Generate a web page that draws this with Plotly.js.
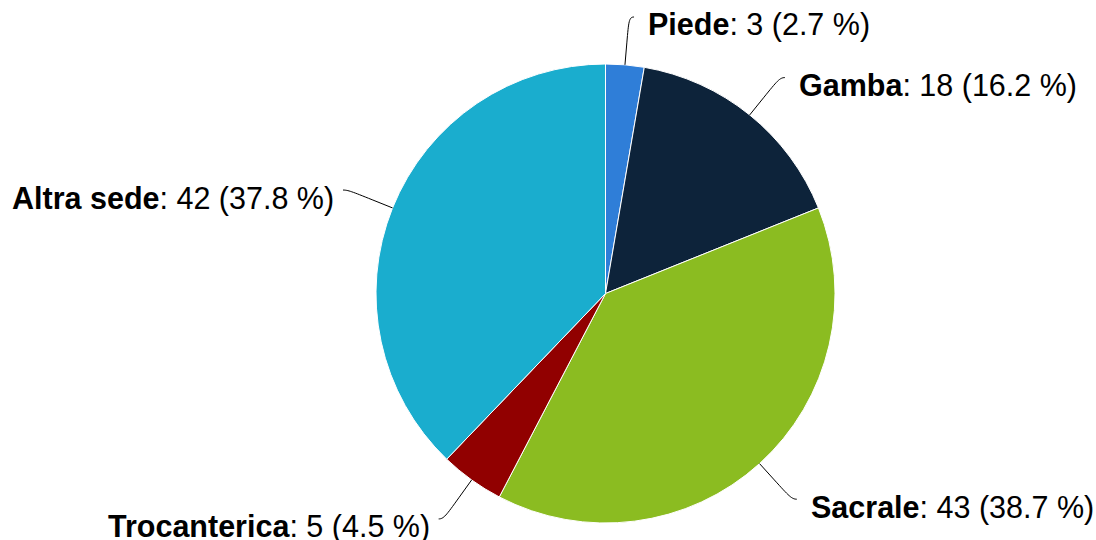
<!DOCTYPE html>
<html>
<head>
<meta charset="utf-8">
<script src="https://cdn.plot.ly/plotly-3.0.1.min.js"></script>
<style>
html,body{margin:0;padding:0;background:#fff;}
#chart{width:1096px;height:540px;}
</style>
</head>
<body>
<div id="chart"></div>
<script>
// ---- data ----
const categories = ['Piede', 'Gamba', 'Sacrale', 'Trocanterica', 'Altra sede'];
const values = [3, 18, 43, 5, 42];
const sliceColors = ['#2f7ed8', '#0d233a', '#8bbc21', '#910000', '#1aadce'];

// ---- layout geometry ----
const W = 1096, H = 540;
const cx = 605.5, cy = 293.5, r = 229.5;
const labelDist = 48;   // anchor of label from pie edge
const breakDist = 22;   // second break of connector
const fontFamily = 'Liberation Sans, Arial, Helvetica, sans-serif';

const total = values.reduce((a, b) => a + b, 0);
const px = x => x / W;
const py = y => 1 - y / H;

const annotations = [];
const shapes = [];
let cum = 0;
values.forEach((v, i) => {
  const mid = (cum + v / 2) / total * 2 * Math.PI; // clockwise from 12 o'clock
  cum += v;
  const dx = Math.sin(mid), dy = -Math.cos(mid);
  const right = dx >= 0;
  const E = [cx + r * dx, cy + r * dy];
  const B = [cx + (r + breakDist) * dx, cy + (r + breakDist) * dy];
  const C2 = [2 * B[0] - E[0], 2 * B[1] - E[1]];
  const A = [cx + (r + labelDist) * dx, cy + (r + labelDist) * dy];
  const S = [A[0] + (right ? 5 : -5), A[1]];
  const path = `M ${px(S[0])} ${py(S[1])} C ${px(A[0])} ${py(A[1])} ${px(C2[0])} ${py(C2[1])} ${px(B[0])} ${py(B[1])} L ${px(E[0])} ${py(E[1])}`;
  shapes.push({type: 'path', xref: 'paper', yref: 'paper', path: path,
    line: {color: '#000000', width: 1}});
  const pct = (v / total * 100).toFixed(1);
  annotations.push({
    xref: 'paper', yref: 'paper',
    x: px(right ? A[0] + 17 : A[0] - 12),
    y: py(A[1] + 8),
    xanchor: right ? 'left' : 'right', yanchor: 'middle',
    showarrow: false,
    text: `<b>${categories[i]}</b>: ${v} (${pct} %)`,
    font: {family: fontFamily, size: 30.5, color: '#000000'}
  });
});

const trace = {
  type: 'pie',
  labels: categories,
  values: values,
  sort: false,
  direction: 'clockwise',
  rotation: 0,
  textinfo: 'none',
  marker: {colors: sliceColors, line: {color: '#ffffff', width: 1}},
  domain: {x: [px(cx - r), px(cx + r)], y: [py(cy + r), py(cy - r)]},
  showlegend: false,
  automargin: false
};

const layout = {
  width: W, height: H,
  margin: {l: 0, r: 0, t: 0, b: 0},
  paper_bgcolor: '#ffffff',
  plot_bgcolor: '#ffffff',
  showlegend: false,
  annotations: annotations,
  shapes: shapes,
  font: {family: fontFamily}
};

Plotly.newPlot('chart', [trace], layout, {displayModeBar: false, staticPlot: true});
</script>
</body>
</html>
